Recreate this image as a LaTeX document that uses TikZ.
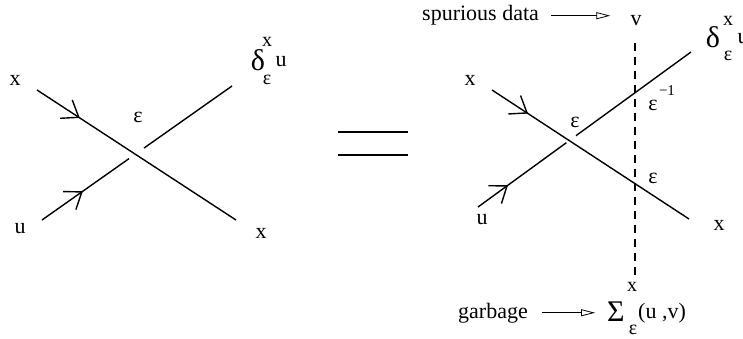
\documentclass[tikz,border=0pt]{standalone}
\usepackage{fontspec}
\setmainfont{Liberation Serif}
\usetikzlibrary{arrows.meta,calc,decorations.markings}
\tikzset{
  lbl/.style={inner sep=0pt, font=\fontsize{22}{22}\selectfont},
  sm/.style={inner sep=0pt, font=\fontsize{20}{20}\selectfont},
  tiny/.style={inner sep=0pt, font=\fontsize{15}{15}\selectfont},
  big/.style={inner sep=0pt, font=\fontsize{30}{30}\selectfont},
  wire/.style={line width=1.4pt},
  barb/.style={decoration={markings, mark=at position #1 with {\arrow{Straight Barb[length=15pt,width=22pt,line width=1.4pt]}}}, postaction=decorate},
  cut/.style={line width=1.4pt, dash pattern=on 8pt off 6pt},
  openarr/.style={line width=0.8pt, -{Triangle[open,length=14pt,width=7pt,line width=0.8pt]}},
}
\begin{document}
\begin{tikzpicture}[x=1pt,y=-1pt]
\useasboundingbox (0,0) rectangle (743,339);
% ---------- left crossing ----------
\coordinate (LxA) at (37,90);  \coordinate (LxB) at (236,220);
\coordinate (LuA) at (42,220); \coordinate (LuB) at (232,86);
\draw[wire,barb=0.215] (LxA) -- (LxB);
\draw[wire,barb=0.47] (LuA) -- ($(LuA)!0.458!(LuB)$);
\draw[wire] ($(LuA)!0.537!(LuB)$) -- (LuB);
\node[lbl] (Lx1) at (15,80) {x};
\node[lbl] (Lu1) at (20,229) {u};
\node[lbl] (Lx2) at (261,233) {x};
\node[lbl] (Leps) at (138,117) {ε};
\node[big] (Ld) at (258,60) {δ};
\node[sm] (Ldx) at (267,42) {x};
\node[sm] (Lde) at (267,80) {ε};
\node[lbl] (Ldu) at (281,62) {u};
% ---------- equals ----------
\coordinate (E1a) at (338,132); \coordinate (E1b) at (408,132);
\coordinate (E2a) at (338,155); \coordinate (E2b) at (408,155);
\draw[line width=1.6pt] (E1a) -- (E1b);
\draw[line width=1.6pt] (E2a) -- (E2b);
% ---------- right crossing ----------
\coordinate (RxA) at (492,90);  \coordinate (RxB) at (689,219);
\coordinate (RuA) at (478,207); \coordinate (RuB) at (691,52);
\draw[wire,barb=0.183] (RxA) -- (RxB);
\draw[wire,barb=0.34] (RuA) -- ($(RuA)!0.415!(RuB)$);
\draw[wire] ($(RuA)!0.46!(RuB)$) -- (RuB);
\coordinate (Dtop) at (635,43); \coordinate (Dbot) at (635,275);
\draw[cut] (Dtop) -- (Dbot);
\node[lbl] (Rx1) at (470,80) {x};
\node[lbl] (Ru1) at (482,220) {u};
\node[lbl] (Rx2) at (719,225) {x};
\node[lbl] (Reps) at (575,122) {ε};
\node[lbl] (Rei) at (653,105) {ε};
\node[tiny] (Rm1) at (667,91) {−1};
\node[lbl] (Re2) at (653,178) {ε};
\node[big] (Rd) at (713,37) {δ};
\node[sm] (Rdx) at (728,21) {x};
\node[sm] (Rde) at (728,56) {ε};
\node[lbl] (Rdu) at (743,39) {u};
% ---------- spurious data ----------
\node[lbl,anchor=base west] (sd) at (422,21) {spurious data};
\node[lbl] (v) at (636,21) {v};
\draw[openarr] ([xshift=12pt]sd.east) -- ([xshift=-20pt]sd.east -| v.west);
% ---------- garbage ----------
\node[lbl,anchor=base west] (gb) at (458,318) {garbage};
\node[big,anchor=west] (sig) at (607,312) {Σ};
\node[sm] (sigx) at (632,287) {x};
\node[sm] (sige) at (633,330) {ε};
\node[lbl,anchor=west] (uv) at (638,313) {(u ,v)};
\draw[openarr] ([xshift=14pt]gb.east) -- ([xshift=-12pt]gb.east -| sig.west);
\end{tikzpicture}
\end{document}
